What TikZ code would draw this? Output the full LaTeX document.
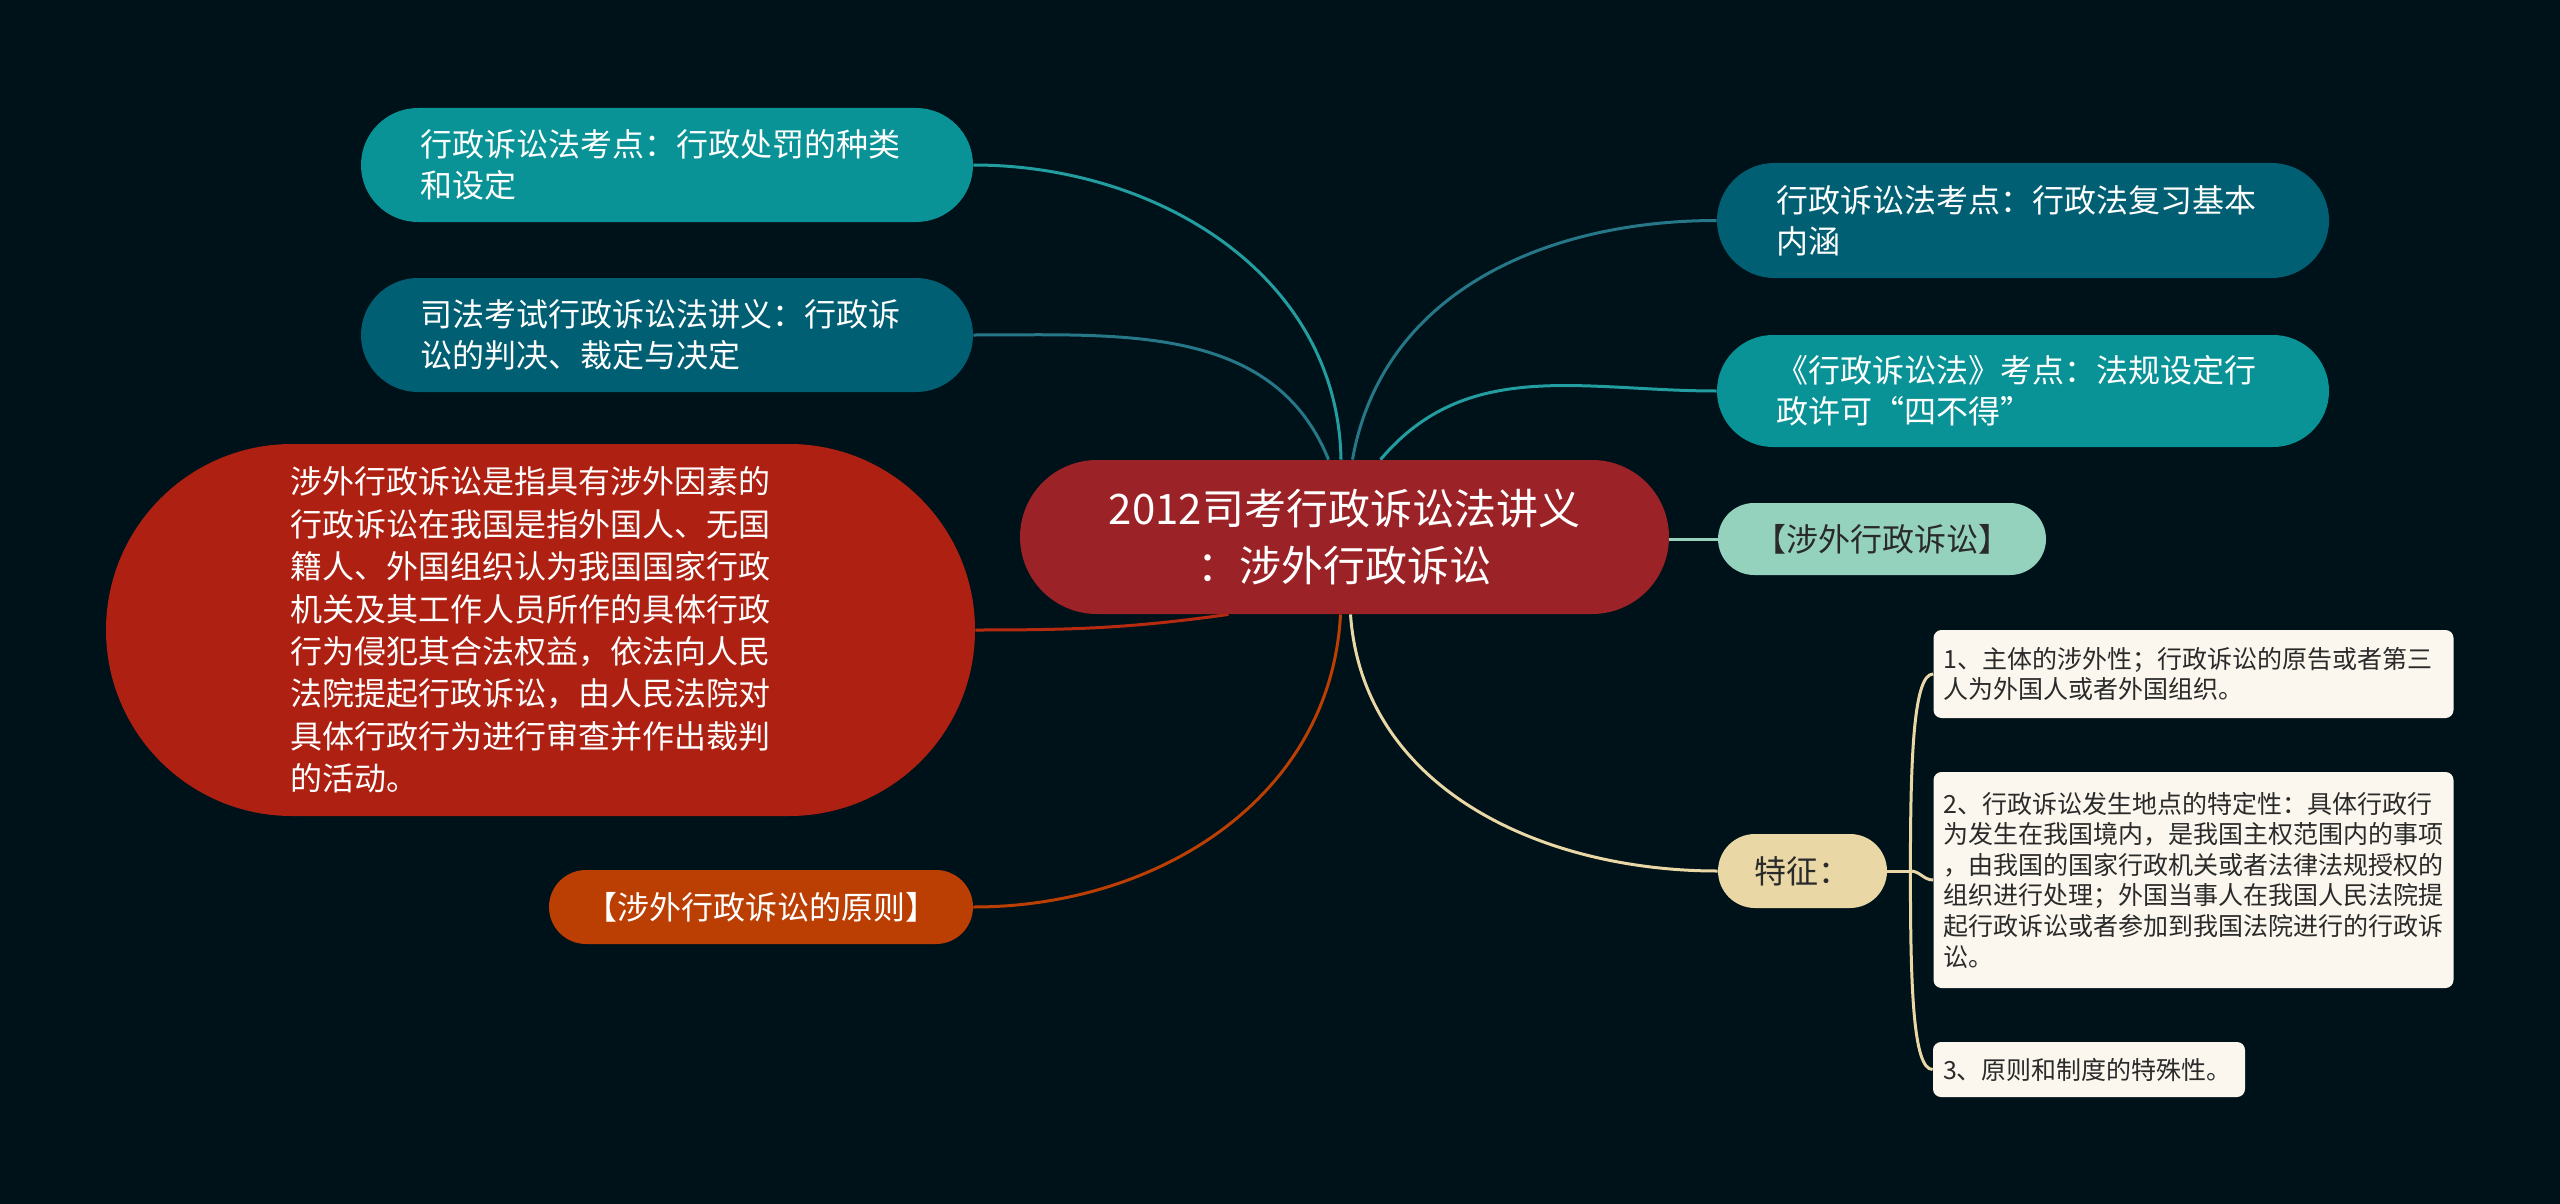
\documentclass[tikz,border=0pt]{standalone}
\usepackage{fontspec}
\setmainfont{Noto Sans CJK SC}
\usepackage{xcolor}
\usepackage{tikz}

\definecolor{bgdark}{HTML}{001219}
\definecolor{deepteal}{HTML}{005F73}
\definecolor{midteal}{HTML}{0A9396}
\definecolor{mint}{HTML}{94D2BD}
\definecolor{sand}{HTML}{E9D8A6}
\definecolor{rust}{HTML}{BB3E03}
\definecolor{brick}{HTML}{AE2012}
\definecolor{wine}{HTML}{9B2226}
\definecolor{cream}{HTML}{FBF7EE}
\definecolor{ink}{HTML}{2A2A2A}

\pgfdeclarelayer{back}
\pgfsetlayers{back,main}

\begin{document}
\begin{tikzpicture}[
        x = 0.5pt, y = -0.5pt,
        every node/.style = {inner ysep=0pt},
        pill/.style = {rounded corners=#1, minimum height=2*#1, align=left, text=white,
          font=\fontsize{16}{20.5}\selectfont, text width=247pt, inner xsep=29.5pt},
        shortpill/.style = {rounded corners=#1, minimum height=2*#1, align=center,
          font=\fontsize{16}{20}\selectfont, inner xsep=0pt},
        leafbox/.style = {rounded corners=4pt, fill=cream, text=ink, align=left,
          font=\fontsize{12.5}{15.3}\selectfont, text width=250pt, inner xsep=5pt},
        link/.style = {line width=1.5pt},
      ]

      \useasboundingbox (0,0) rectangle (2560,1204);

      \node[fill=wine, text=white, rounded corners=38.5pt, minimum width=324.5pt,
        minimum height=77pt, align=center, font=\fontsize{21}{28.5}\selectfont] (root)
        at (1344.5,537) {2012司考行政诉讼法讲义\\：涉外行政诉讼};

      \node[pill=28.5pt, fill=midteal] (penalty) at (667,165)
        {行政诉讼法考点：行政处罚的种类\\和设定};
      \node[pill=28.5pt, fill=deepteal] (ruling) at (667,335)
        {司法考试行政诉讼法讲义：行政诉\\讼的判决、裁定与决定};
      \node[pill=93pt, fill=brick, font=\fontsize{16}{21.2}\selectfont,
        text width=250pt, inner xsep=92.25pt] (define) at (540.5,630)
        {涉外行政诉讼是指具有涉外因素的\\行政诉讼在我国是指外国人、无国\\籍人、外国组织认为我国国家行政\\机关及其工作人员所作的具体行政\\行为侵犯其合法权益，依法向人民\\法院提起行政诉讼，由人民法院对\\具体行政行为进行审查并作出裁判\\的活动。};
      \node[shortpill=18.5pt, fill=rust, text=white, minimum width=212pt] (principle)
        at (761,907) {【涉外行政诉讼的原则】};

      \node[pill=28.75pt, fill=deepteal] (basics) at (2023,220.5)
        {行政诉讼法考点：行政法复习基本\\内涵};
      \node[pill=28pt, fill=midteal] (permit) at (2023,391)
        {《行政诉讼法》考点：法规设定行\\政许可“四不得”};
      \node[shortpill=18pt, fill=mint, text=ink, minimum width=164pt] (foreign)
        at (1882,539) {【涉外行政诉讼】};
      \node[shortpill=18.5pt, fill=sand, text=ink, minimum width=84.5pt] (trait)
        at (1802.5,871) {特征：};

      \node[leafbox, minimum height=44pt] (subject) at (2193.5,674)
        {1、主体的涉外性；行政诉讼的原告或者第三\\人为外国人或者外国组织。};
      \node[leafbox, minimum height=108pt] (place) at (2193.5,880)
        {2、行政诉讼发生地点的特定性：具体行政行\\为发生在我国境内，是我国主权范围内的事项\\，由我国的国家行政机关或者法律法规授权的\\组织进行处理；外国当事人在我国人民法院提\\起行政诉讼或者参加到我国法院进行的行政诉\\讼。};
      \node[leafbox, minimum height=27.5pt, text width=146pt] (special) at (2089,1069.5)
        {3、原则和制度的特殊性。};

      \coordinate (fork) at ([xshift=11.5pt]trait.east);

      \begin{pgfonlayer}{back}
        \fill[bgdark] (0,0) rectangle (2560,1204);
        \draw[link, midteal!90!white] ([xshift=-1.75pt]root.north) to[out=91, in=0] (penalty.east);
        \draw[link, deepteal!85!white] ([xshift=-8pt]root.north) to[out=112, in=0] (ruling.east);
        \draw[link, brick!90!orange] ([xshift=-58pt]root.south) to[out=188, in=0] (define.east);
        \draw[link, rust] ([xshift=-2pt]root.south) to[out=-93, in=0] (principle.east);
        \draw[link, deepteal!85!white] ([xshift=4pt]root.north) to[out=80, in=180] (basics.west);
        \draw[link, midteal!90!white] ([xshift=18pt]root.north) to[out=50, in=180] (permit.west);
        \draw[link, mint] (root.east |- foreign.west) -- (foreign.west);
        \draw[link, sand] ([xshift=3pt]root.south) to[out=-86, in=180] (trait.west);
        \draw[link, sand] (trait.east) -- (fork);
        \draw[link, sand] (fork) to[out=90, in=180, out looseness=1.5, in looseness=0.25] (subject.west);
        \draw[link, sand] (fork) to[out=0, in=180] (place.west);
        \draw[link, sand] (fork) to[out=-90, in=180, out looseness=1.5, in looseness=0.25] (special.west);
      \end{pgfonlayer}

    \end{tikzpicture}
\end{document}
